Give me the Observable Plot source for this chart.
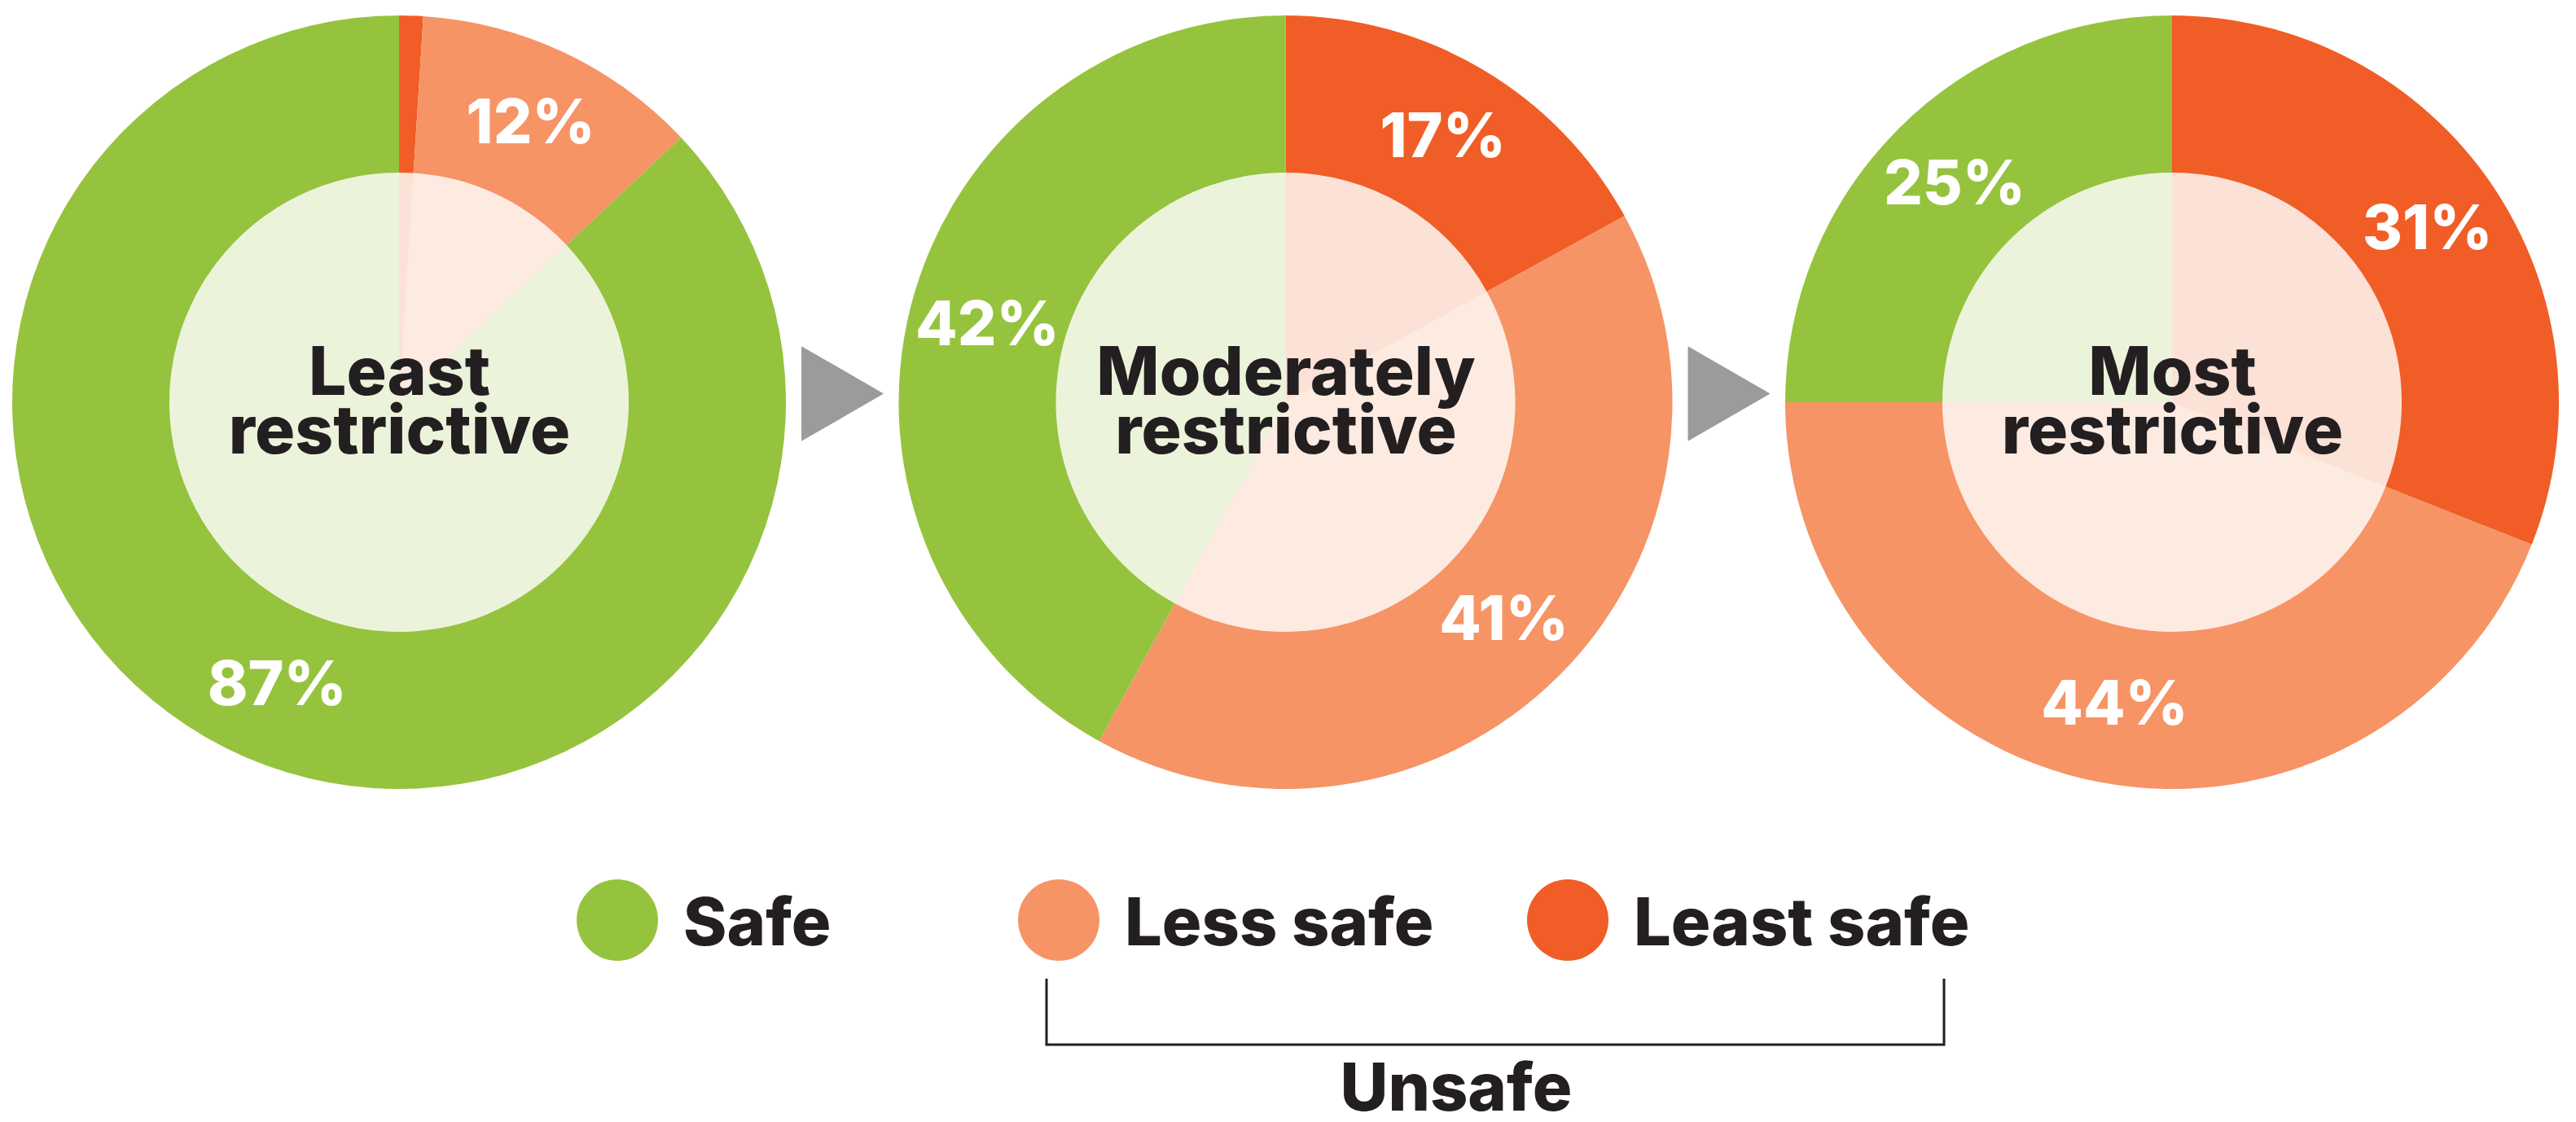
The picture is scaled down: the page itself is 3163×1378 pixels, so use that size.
<!DOCTYPE html>
<html>
<head>
<meta charset="utf-8">
<script src="https://cdn.jsdelivr.net/npm/d3@7"></script>
<script src="https://cdn.jsdelivr.net/npm/@observablehq/plot@0.6"></script>
<style>
  html, body { margin: 0; padding: 0; background: #fff; overflow: hidden; width: 3163px; height: 1378px; }
  #chart { position: absolute; left: 0; top: 0; }
  #legend { position: absolute; left: 0; top: 1000px; }
  text { font-family: Inter, "Open Sans", sans-serif; }
</style>
</head>
<body>
<div id="chart"></div>
<div id="legend"></div>
<script>
// ---------------- data ----------------
const charts = ["Least restrictive", "Moderately restrictive", "Most restrictive"];
const centerLabels = ["Least\nrestrictive", "Moderately\nrestrictive", "Most\nrestrictive"];
// slice order, clockwise from 12 o'clock
const categories = ["Least safe", "Less safe", "Safe"];
const leastSafe = [1, 17, 31];
const lessSafe = [12, 41, 44];
const safe = [87, 42, 25];
const legendOrder = ["Safe", "Less safe", "Least safe"];
const bracketLabel = "Unsafe";
const palette = ["#F15D26", "#F69466", "#96C33E"];

// ---------------- derived table ----------------
const S = 2.2916;            // spacing between donut centres (in outer-radius units)
const INNER = 282 / 475;     // inner circle radius / outer radius
const LABEL_R = (1 + INNER) / 2;
const series = [leastSafe, lessSafe, safe];
const slices = [];
charts.forEach((chart, i) => {
  let acc = 0;
  categories.forEach((cat, k) => {
    const v = series[k][i];
    const a0 = acc / 100 * 2 * Math.PI;
    acc += v;
    const a1 = acc / 100 * 2 * Math.PI;
    slices.push({chart, i, category: cat, value: v, a0, a1, cx: i * S});
  });
});
const labels = slices.filter(d => d.value >= 5).map(d => {
  const m = (d.a0 + d.a1) / 2;
  return {...d, lx: d.cx + LABEL_R * Math.sin(m), ly: LABEL_R * Math.cos(m), text: d.value + "%"};
});
const centers = charts.map((c, i) => ({chart: c, cx: i * S, text: centerLabels[i]}));
const arrows = charts.slice(1).map((c, i) => ({to: c, x: (i + 0.5) * S}));

// ---------------- donut mark ----------------
function donuts(index, scales) {
  const g = d3.create("svg:g");
  const r = scales.x(1) - scales.x(0);
  const arc = d3.arc();
  const colorOf = scales.color || (c => palette[categories.indexOf(c)]);
  for (const s of slices) {
    const cx = scales.x(s.cx), cy = scales.y(0);
    const fill = colorOf(s.category);
    g.append("path")
      .attr("transform", `translate(${cx},${cy})`)
      .attr("d", arc({innerRadius: INNER * r, outerRadius: r, startAngle: s.a0, endAngle: s.a1}))
      .attr("fill", fill);
    g.append("path")
      .attr("transform", `translate(${cx},${cy})`)
      .attr("d", arc({innerRadius: 0, outerRadius: INNER * r, startAngle: s.a0, endAngle: s.a1}))
      .attr("fill", fill)
      .attr("fill-opacity", 0.19);
  }
  return g.node();
}

const plot = Plot.plot({
  width: 3163,
  height: 1000,
  marginLeft: 15,
  marginRight: 21,
  marginTop: 19,
  marginBottom: 31,
  x: {domain: [-1, 2 * S + 1], axis: null},
  y: {domain: [-1, 1], axis: null},
  color: {domain: categories, range: palette},
  style: {fontFamily: "Inter, sans-serif", background: "white"},
  marks: [
    donuts,
    Plot.dot(arrows, {x: "x", y: 0, symbol: "triangle", rotate: 90, r: 43.3, fill: "#9B9B9B", dx: -17, dy: -11}),
    Plot.text(labels, {x: "lx", y: "ly", text: "text", fill: "white", fontSize: 75, fontWeight: 800}),
    Plot.text(centers, {x: "cx", y: 0, text: "text", fill: "#231F20", fontSize: 82, fontWeight: 800, lineHeight: 0.88, dy: 3})
  ]
});
document.getElementById("chart").appendChild(plot);

// ---------------- legend ----------------
const colorScale = plot.scale("color");
const colorFor = c => palette[colorScale.domain.indexOf(c)];
const legendX = {"Safe": 758, "Less safe": 1300, "Least safe": 1925};
const lsvg = d3.select("#legend").append("svg")
  .attr("width", 3163).attr("height", 378)
  .style("font-family", "Inter, sans-serif");
const items = lsvg.selectAll("g.item").data(legendOrder).join("g")
  .attr("transform", d => `translate(${legendX[d]},130)`);
items.append("circle").attr("r", 50).attr("fill", d => colorFor(d));
items.append("text").attr("x", 81).attr("y", 31)
  .attr("font-size", 81).attr("font-weight", 800).attr("fill", "#231F20")
  .text(d => d);
lsvg.append("path")
  .attr("d", "M1285,202V283H2387V202")
  .attr("fill", "none").attr("stroke", "#231F20").attr("stroke-width", 3);
lsvg.append("text").attr("x", 1788).attr("y", 364).attr("text-anchor", "middle")
  .attr("font-size", 81).attr("font-weight", 800).attr("fill", "#231F20")
  .text(bracketLabel);
</script>
</body>
</html>
